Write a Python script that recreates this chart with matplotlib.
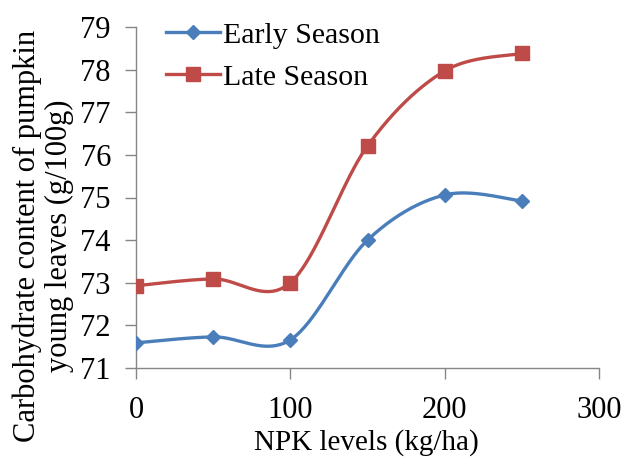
import numpy as np
import matplotlib
matplotlib.use("Agg")
import matplotlib.pyplot as plt
from matplotlib.lines import Line2D

npk = [0, 50, 100, 150, 200, 250]
early = [71.59, 71.73, 71.66, 74.00, 75.06, 74.92]
late = [72.93, 73.09, 73.00, 76.21, 77.97, 78.38]
labels = ["Early Season", "Late Season"]
xticks = [0, 100, 200, 300]
yticks = [71, 72, 73, 74, 75, 76, 77, 78, 79]

plt.rcParams['font.family'] = ['Liberation Serif', 'DejaVu Serif']

W, H = 623, 457
fig = plt.figure(figsize=(W / 100, H / 100), dpi=100)
ax = fig.add_axes([136 / W, 1 - 368 / H, (599 - 136) / W, (368 - 27) / H])
ax.set_xlim(0, 300)
ax.set_ylim(71, 79)


def smooth(x, y, sx, sy, n=40):
    # Excel-style smoothed line (Catmull-Rom Bezier) in screen-scaled units
    P = np.column_stack([np.asarray(x, float) * sx, np.asarray(y, float) * sy])
    out = []
    m = len(P)
    for i in range(m - 1):
        p0 = P[i - 1] if i > 0 else P[i]
        p1, p2 = P[i], P[i + 1]
        p3 = P[i + 2] if i + 2 < m else P[i + 1]
        c1 = p1 + (p2 - p0) / 6
        c2 = p2 - (p3 - p1) / 6
        t = np.linspace(0, 1, n)[:, None]
        seg = (1 - t) ** 3 * p1 + 3 * (1 - t) ** 2 * t * c1 + 3 * (1 - t) * t ** 2 * c2 + t ** 3 * p2
        out.append(seg if i == 0 else seg[1:])
    out = np.vstack(out)
    return out[:, 0] / sx, out[:, 1] / sy


sx = 463 / 300
sy = 341 / 8
blue = '#4A7EBB'
red = '#BE4B48'
for ys, col, mk, ms in [(early, blue, 'D', 7), (late, red, 's', 10.5)]:
    xs_, ys_ = smooth(npk, ys, sx, sy)
    ax.plot(xs_, ys_, color=col, lw=2.4, solid_capstyle='round', zorder=2)
    ax.plot(npk, ys, linestyle='none', marker=mk, ms=ms, color=col, zorder=3)

handles = [Line2D([], [], color=blue, lw=2.4, marker='D', ms=7),
           Line2D([], [], color=red, lw=2.4, marker='s', ms=10.5)]
ax.legend(handles, labels, loc='upper left', bbox_to_anchor=(0.04, 1.05),
          frameon=False, fontsize=21.5, handlelength=1.8, handletextpad=0.1,
          labelspacing=0.5, borderaxespad=0)

ax.set_xticks(xticks)
ax.set_yticks(yticks)
for s in ['top', 'right']:
    ax.spines[s].set_visible(False)
for s in ['left', 'bottom']:
    ax.spines[s].set_color('#868686')
    ax.spines[s].set_linewidth(1.0)
ax.tick_params(direction='out', length=8, width=1, color='#868686',
               labelsize=22)
ax.tick_params(axis='x', pad=12)
ax.tick_params(axis='y', pad=10)
ax.set_xlabel("NPK levels (kg/ha)", fontsize=21)
ax.xaxis.set_label_coords((366 - 136) / 463, -(450 - 368) / 341)
ax.xaxis.label.set_va('baseline')
ax.set_ylabel("Carbohydrate content of pumpkin\nyoung leaves (g/100g)",
              fontsize=22, linespacing=1.15)
ax.yaxis.set_label_coords(-(136 - 43) / 463, 1 - (236 - 27) / 341)
ax.yaxis.label.set_va('center')

fig.savefig("out.png", dpi=100)
